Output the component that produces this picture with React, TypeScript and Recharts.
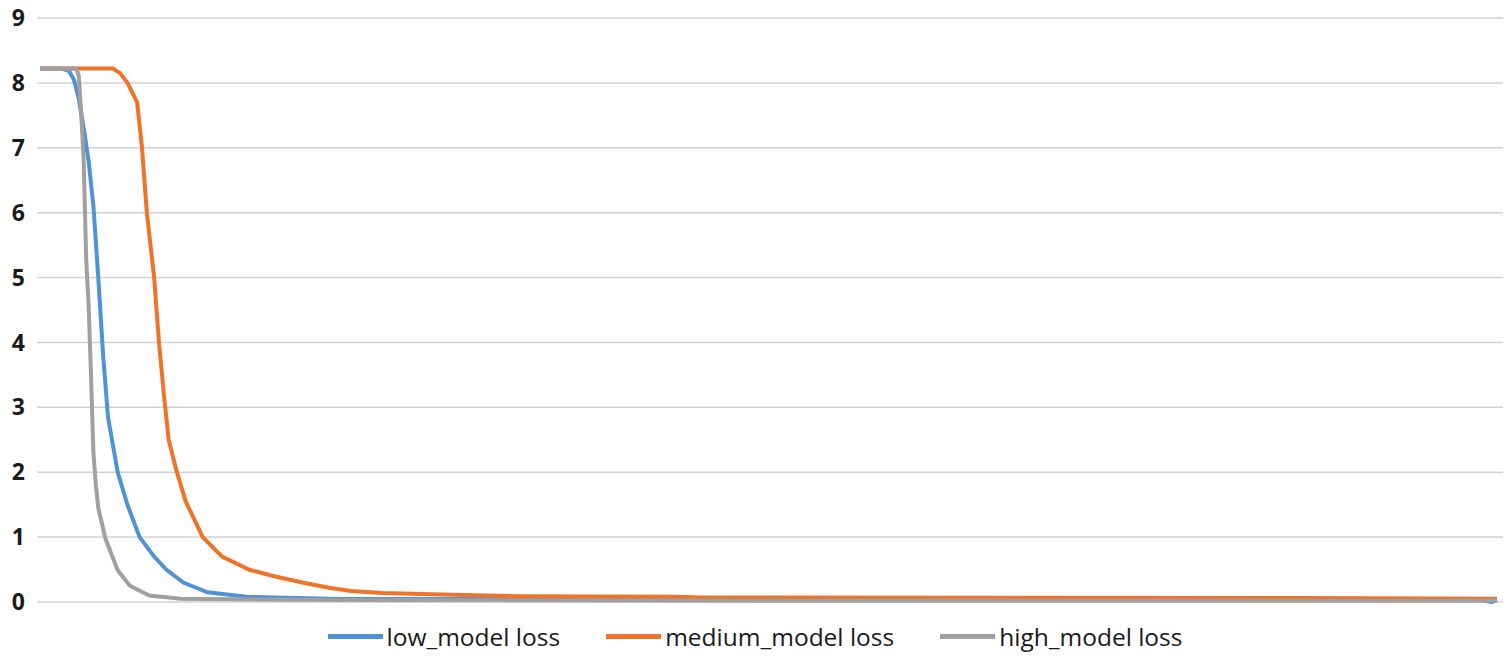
import React from 'react';
import { LineChart, Line, XAxis, YAxis, CartesianGrid, Legend } from 'recharts';

// training step (0..600) and loss
const lowSteps = [0, 9, 12, 14, 16, 18, 20, 22, 24, 26, 28, 32, 36, 41, 47, 52, 59, 69, 85, 119, 300, 592, 596, 598, 600];
const lowLoss = [8.22, 8.22, 8.18, 8.05, 7.75, 7.3, 6.8, 6.1, 5.0, 3.8, 2.85, 2.0, 1.5, 1.0, 0.7, 0.5, 0.3, 0.15, 0.08, 0.05, 0.04, 0.04, 0.01, 0.0, 0.03];

const mediumSteps = [0, 30, 33, 36, 38, 40, 42, 44, 47, 49, 51, 53, 56, 60, 67, 75, 86, 96, 108, 119, 128, 141, 161, 198, 262, 272, 519, 600];
const mediumLoss = [8.22, 8.22, 8.15, 8.0, 7.85, 7.7, 7.0, 6.0, 5.0, 4.0, 3.2, 2.5, 2.05, 1.55, 1.0, 0.7, 0.5, 0.4, 0.3, 0.22, 0.17, 0.14, 0.12, 0.09, 0.08, 0.07, 0.06, 0.05];

const highSteps = [0, 15, 16, 17, 18, 19, 20, 21, 22, 23, 24, 27, 32, 37, 45, 58, 120, 300, 600];
const highLoss = [8.22, 8.22, 8.1, 7.5, 6.8, 5.3, 4.6, 3.5, 2.3, 1.8, 1.45, 0.97, 0.49, 0.25, 0.1, 0.05, 0.03, 0.02, 0.02];

const yTicks = [0, 1, 2, 3, 4, 5, 6, 7, 8, 9];

const series = [
  { name: 'low_model loss', color: '#4f92d6', steps: lowSteps, loss: lowLoss },
  { name: 'medium_model loss', color: '#ef7428', steps: mediumSteps, loss: mediumLoss },
  { name: 'high_model loss', color: '#a0a0a0', steps: highSteps, loss: highLoss },
];

if (typeof document !== 'undefined') document.body.style.margin = '0';

const LegendRow = () => (
  <div style={{ display: 'flex', justifyContent: 'center', alignItems: 'center', fontFamily: '"Open Sans", sans-serif', fontSize: 24.5, color: '#1a1a1a' }}>
    {series.map(s => (
      <div key={s.name} style={{ display: 'flex', alignItems: 'center', margin: '0 23px' }}>
        <span style={{ display: 'inline-block', width: 55, height: 5, background: s.color, marginRight: 4 }} />
        <span>{s.name}</span>
      </div>
    ))}
  </div>
);

export default function App() {
  return (
    <LineChart width={1510} height={664} margin={{ top: 18, right: 7, bottom: 62, left: 0 }}>
      <CartesianGrid vertical={false} stroke="#d2d2d2" strokeWidth={1.5} />
      <XAxis type="number" dataKey="step" domain={[0, 600]} hide padding={{ left: 3, right: 6 }} allowDuplicatedCategory={false} />
      <YAxis
        type="number"
        domain={[0, 9]}
        ticks={yTicks}
        width={37}
        axisLine={false}
        tickLine={false}
        tickSize={0}
        tickMargin={12}
        tick={{ fontSize: 23, fontWeight: 700, fill: '#1a1a1a', fontFamily: '"Open Sans", sans-serif' }}
      />
      {series.map(s => (
        <Line
          key={s.name}
          data={s.steps.map((step, i) => ({ step, loss: s.loss[i] }))}
          dataKey="loss"
          name={s.name}
          type="linear"
          stroke={s.color}
          strokeWidth={4}
          dot={false}
          isAnimationActive={false}
        />
      ))}
      <Legend
        layout="horizontal"
        align="center"
        verticalAlign="middle"
        wrapperStyle={{ top: 620, left: 0, width: 1510 }}
        content={() => <LegendRow />}
      />
    </LineChart>
  );
}
